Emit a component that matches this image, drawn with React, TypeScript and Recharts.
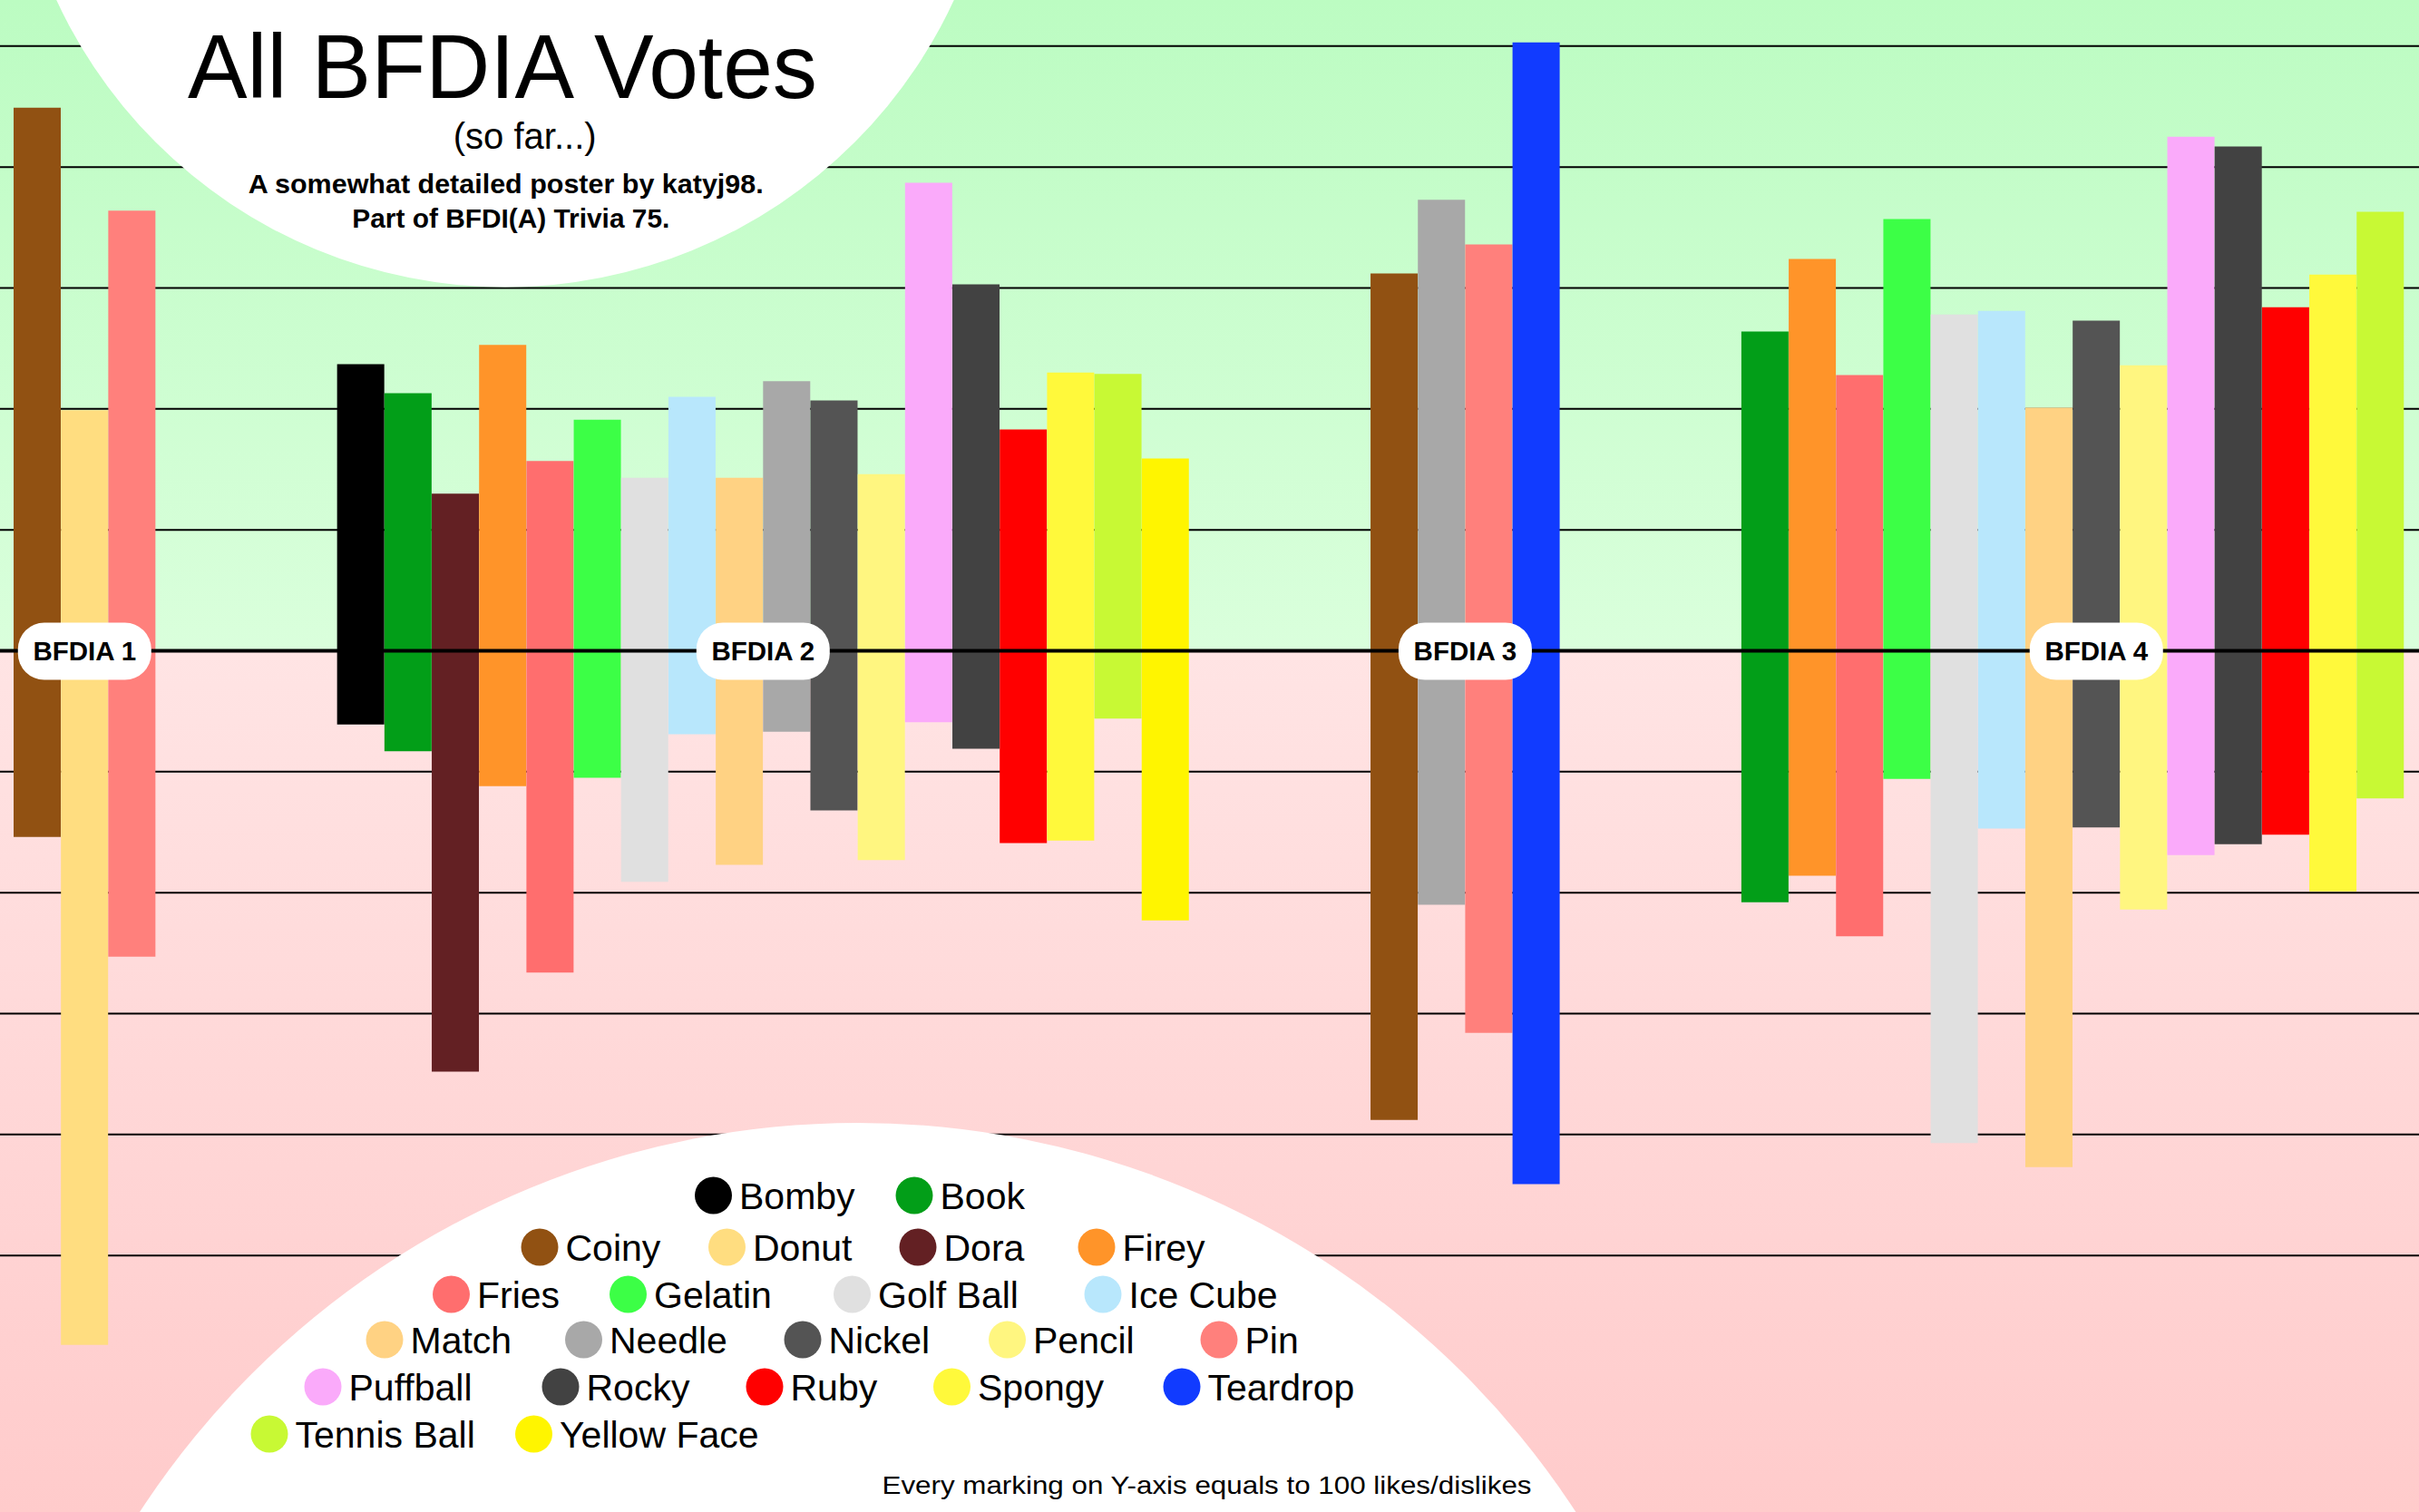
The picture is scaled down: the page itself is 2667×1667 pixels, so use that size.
import React from 'react';
import { BarChart, Bar, XAxis, YAxis, ReferenceLine, ReferenceDot, Cell, Customized } from 'recharts';

// ---------- DATA ----------
const EPISODE_LABELS = ['BFDIA 1', 'BFDIA 2', 'BFDIA 3', 'BFDIA 4'];

const EP1_NAMES = ['Coiny', 'Donut', 'Pin'];
const EP1_LIKES = [449, 199, 364];
const EP1_DISLIKES = [154, 574, 253];

const EP2_NAMES = ['Bomby', 'Book', 'Dora', 'Firey', 'Fries', 'Gelatin', 'Golf Ball', 'Ice Cube', 'Match', 'Needle', 'Nickel', 'Pencil', 'Puffball', 'Rocky', 'Ruby', 'Spongy', 'Tennis Ball', 'Yellow Face'];
const EP2_LIKES = [237, 213, 130, 253, 157, 191, 143, 210, 143, 223, 207, 146, 387, 303, 183, 230, 229, 159];
const EP2_DISLIKES = [61, 83, 348, 112, 266, 105, 191, 69, 177, 67, 132, 173, 59, 81, 159, 157, 56, 223];

const EP3_NAMES = ['Coiny', 'Needle', 'Pin', 'Teardrop'];
const EP3_LIKES = [312, 373, 336, 503];
const EP3_DISLIKES = [388, 210, 316, 441];

const EP4_NAMES = ['Book', 'Firey', 'Fries', 'Gelatin', 'Golf Ball', 'Ice Cube', 'Match', 'Nickel', 'Pencil', 'Puffball', 'Rocky', 'Ruby', 'Spongy', 'Tennis Ball'];
const EP4_LIKES = [264, 324, 228, 357, 278, 281, 201, 273, 236, 425, 417, 284, 311, 363];
const EP4_DISLIKES = [208, 186, 236, 106, 407, 147, 427, 146, 214, 169, 160, 152, 199, 122];

const CONTESTANTS = ['Bomby', 'Book', 'Coiny', 'Donut', 'Dora', 'Firey', 'Fries', 'Gelatin', 'Golf Ball', 'Ice Cube', 'Match', 'Needle', 'Nickel', 'Pencil', 'Pin', 'Puffball', 'Rocky', 'Ruby', 'Spongy', 'Teardrop', 'Tennis Ball', 'Yellow Face'];
const CONTESTANT_COLORS = ['#000000', '#029E18', '#915112', '#FFDD80', '#632023', '#FF9429', '#FF6E6E', '#3CFF46', '#E0E0E0', '#B8E7FC', '#FFD283', '#A8A8A8', '#545454', '#FFF680', '#FF807C', '#FAAAFA', '#424242', '#FF0000', '#FFF93B', '#113BFF', '#C8F934', '#FFF500'];

const GRID_TICKS = [-500, -400, -300, -200, -100, 100, 200, 300, 400, 500];

// ---------- LAYOUT ----------
const W = 2667;
const H = 1667;
const Y_TOP = 538.1;
const Y_BOTTOM = -712.1;
const TOTAL_SLOTS = 51.11;
const LEFT_PAD = 0.2875;
const GROUP_GAP = 3.835;
const LABEL_SHIFT = [0, 0, 0, 0.5];
const FONT = '"Liberation Sans", Arial, Helvetica, sans-serif';

const LEGEND_ROW_SIZES = [2, 4, 4, 5, 5, 2];
const LEGEND_ROW_Y = [1318, 1375, 1427, 1477, 1529, 1581];
const LEGEND_X = [786.5, 1008, 595, 801.5, 1012, 1209, 497.5, 692.5, 939.5, 1216, 424, 643.5, 885, 1110.5, 1344, 356, 618, 843, 1049.5, 1303, 297, 588.5];

const colorOf = (name: string) => CONTESTANT_COLORS[CONTESTANTS.indexOf(name)];

const EPISODES = [
  { names: EP1_NAMES, likes: EP1_LIKES, dislikes: EP1_DISLIKES },
  { names: EP2_NAMES, likes: EP2_LIKES, dislikes: EP2_DISLIKES },
  { names: EP3_NAMES, likes: EP3_LIKES, dislikes: EP3_DISLIKES },
  { names: EP4_NAMES, likes: EP4_LIKES, dislikes: EP4_DISLIKES },
];

const rows: { x: number; range: [number, number]; name: string; color: string }[] = [];
const labels: { label: string; x: number }[] = [];
{
  let cursor = LEFT_PAD;
  EPISODES.forEach((ep, gi) => {
    const start = cursor;
    ep.names.forEach((n, i) => {
      rows.push({ x: start + i + 0.5, range: [-ep.dislikes[i], ep.likes[i]], name: n, color: colorOf(n) });
    });
    labels.push({ label: EPISODE_LABELS[gi], x: start + ep.names.length / 2 + LABEL_SHIFT[gi] });
    cursor = start + ep.names.length + GROUP_GAP;
  });
}

const Pill = ({ cx, cy, label }: { cx: number; cy: number; label: string }) => (
  <g>
    <rect x={cx - 73.5} y={cy - 31} width={147} height={63} rx={29} ry={29} fill="#ffffff" />
    <text x={cx} y={cy + 11} textAnchor="middle" fontSize={29.5} fontWeight={700} fontFamily={FONT} fill="#000">
      {label}
    </text>
  </g>
);

const Decor = () => {
  const items: React.ReactNode[] = [];
  let idx = 0;
  LEGEND_ROW_SIZES.forEach((n, r) => {
    for (let k = 0; k < n; k++) {
      const name = CONTESTANTS[idx];
      const cx = LEGEND_X[idx];
      const cy = LEGEND_ROW_Y[r];
      items.push(
        <g key={name}>
          <circle cx={cx} cy={cy} r={20.5} fill={CONTESTANT_COLORS[idx]} />
          <text x={cx + 28.5} y={cy + 15} fontSize={41} fontFamily={FONT} fill="#000">
            {name}
          </text>
        </g>
      );
      idx++;
    }
  });
  return (
    <g>
      <circle cx={557} cy={-228.5} r={545} fill="#ffffff" />
      <circle cx={945.7} cy={2183} r={945} fill="#ffffff" />
      <text x={554} y={108} textAnchor="middle" fontSize={101} fontFamily={FONT} fill="#000" textLength={694} lengthAdjust="spacingAndGlyphs">
        All BFDIA Votes
      </text>
      <text x={578.7} y={164} textAnchor="middle" fontSize={40} fontFamily={FONT} fill="#000">
        (so far...)
      </text>
      <text x={557.7} y={213.3} textAnchor="middle" fontSize={29.5} fontWeight={700} fontFamily={FONT} fill="#000" textLength={568} lengthAdjust="spacingAndGlyphs">
        A somewhat detailed poster by katyj98.
      </text>
      <text x={563.3} y={250.7} textAnchor="middle" fontSize={29.5} fontWeight={700} fontFamily={FONT} fill="#000" textLength={350} lengthAdjust="spacingAndGlyphs">
        Part of BFDI(A) Trivia 75.
      </text>
      {items}
      <text x={972.5} y={1646.7} fontSize={28} fontFamily={FONT} fill="#000" textLength={716} lengthAdjust="spacingAndGlyphs">
        Every marking on Y-axis equals to 100 likes/dislikes
      </text>
    </g>
  );
};

export default function App() {
  return (
    <div
      style={{
        position: 'absolute',
        left: 0,
        top: 0,
        width: W,
        height: H,
        background:
          'linear-gradient(to bottom, #BCFCC2 0px, #DAFFDC 718px, #FFE4E4 718px, #FFCBCB 1667px)',
      }}
    >
      <BarChart
        width={W}
        height={H}
        data={rows}
        margin={{ top: 0, right: 0, bottom: 0, left: 0 }}
        barCategoryGap={0}
        barGap={0}
      >
        <XAxis dataKey="x" type="number" domain={[0, TOTAL_SLOTS]} allowDataOverflow hide />
        <YAxis type="number" domain={[Y_BOTTOM, Y_TOP]} allowDataOverflow hide ticks={GRID_TICKS} />
        {GRID_TICKS.map((v) => (
          <ReferenceLine key={'g' + v} y={v} stroke="#000" strokeWidth={2} zIndex={-100} />
        ))}
        <Customized component={Decor} />
        <Bar dataKey="range" isAnimationActive={false}>
          {rows.map((r, i) => (
            <Cell key={i} fill={r.color} />
          ))}
        </Bar>
        <ReferenceLine y={0} stroke="#000" strokeWidth={4} zIndex={900} />
        {labels.map((l) => (
          <ReferenceDot
            key={l.label}
            x={l.x}
            y={0}
            r={1}
            ifOverflow="visible"
            zIndex={1000}
            shape={(p: any) => <Pill cx={p.cx} cy={p.cy} label={l.label} />}
          />
        ))}
      </BarChart>
    </div>
  );
}
